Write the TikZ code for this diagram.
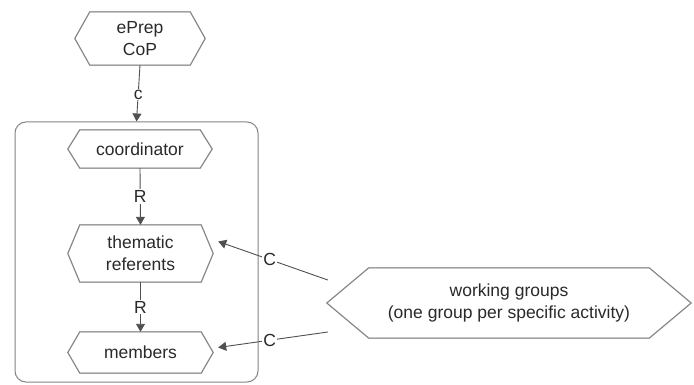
\documentclass[tikz,border=0pt]{standalone}
\usepackage{fontspec}
\setmainfont{Liberation Sans}
\usetikzlibrary{arrows.meta,calc}
\definecolor{ln}{HTML}{505050}
\definecolor{bd}{HTML}{858585}
\definecolor{sh}{HTML}{CFCFCF}
\definecolor{tx}{HTML}{2A2A2A}
\newcommand{\hexpath}[3][]{%
  \draw[#1] ($(#2.north west)+(#3,0)$) -- ($(#2.north east)+(-#3,0)$) -- (#2.east)
    -- ($(#2.south east)+(-#3,0)$) -- ($(#2.south west)+(#3,0)$) -- (#2.west) -- cycle;}
\tikzset{
  hexbox/.style={rectangle, inner sep=0pt, align=center, text=tx,
    font=\fontsize{17.5pt}{22pt}\selectfont},
  hexline/.style={draw=bd, line width=1pt, line join=miter},
  hexshadow/.style={draw=sh, line width=1.2pt, shift={(1.5,1.5)}},
  arr/.style={draw=ln, line width=0.9pt, -{Triangle[length=8pt,width=9pt]}},
  lbl/.style={fill=white, inner sep=1pt, text=tx, font=\fontsize{17.5pt}{20pt}\selectfont},
  cont/.style={draw=bd, line width=1pt, rounded corners=11pt, inner sep=0pt}
}
\begin{document}
\begin{tikzpicture}[x=1pt,y=-1pt]
\useasboundingbox (0,0) rectangle (694,385);
\fill[white] (0,0) rectangle (694,385);
% container
\node[cont, minimum width=243pt, minimum height=260pt] (box) at (136.5,252) {};
% nodes
\node[hexbox, minimum width=130pt, minimum height=53pt] (eprep) at (140,38.5) {ePrep\\CoP};
\node[hexbox, minimum width=144pt, minimum height=38pt] (coord) at (140,149) {coordinator};
\node[hexbox, minimum width=145pt, minimum height=57pt] (them) at (140.5,253.5) {thematic\\referents};
\node[hexbox, minimum width=145pt, minimum height=41pt] (memb) at (140.5,352.5) {members};
\node[hexbox, minimum width=364pt, minimum height=70pt] (wg) at (509,303) {working groups\\(one group per specific activity)};
% hexagon outlines
\begin{scope}[on background layer/.style={}]
\hexpath[hexshadow]{eprep}{15}
\hexpath[hexshadow]{coord}{12}
\hexpath[hexshadow]{them}{12}
\hexpath[hexshadow]{memb}{12}
\hexpath[hexshadow]{wg}{42}
\end{scope}
\hexpath[hexline]{eprep}{15}
\hexpath[hexline]{coord}{12}
\hexpath[hexline]{them}{12}
\hexpath[hexline]{memb}{12}
\hexpath[hexline]{wg}{42}
% connectors
\draw[arr] (eprep.south) -- node[lbl, pos=0.52] {c} (box.north);
\draw[arr] (coord.south) -- node[lbl, pos=0.5] {R} (them.north);
\draw[arr] (them.south) -- node[lbl, pos=0.5] {R} (memb.north);
\draw[arr] ([shift={(1,-23)}]wg.west) -- node[lbl, pos=0.53] {C} ([shift={(5,-12)}]them.east);
\draw[arr] ([shift={(1,29)}]wg.west) -- node[lbl, pos=0.53] {C} ([shift={(5,-5)}]memb.east);
\end{tikzpicture}
\end{document}
